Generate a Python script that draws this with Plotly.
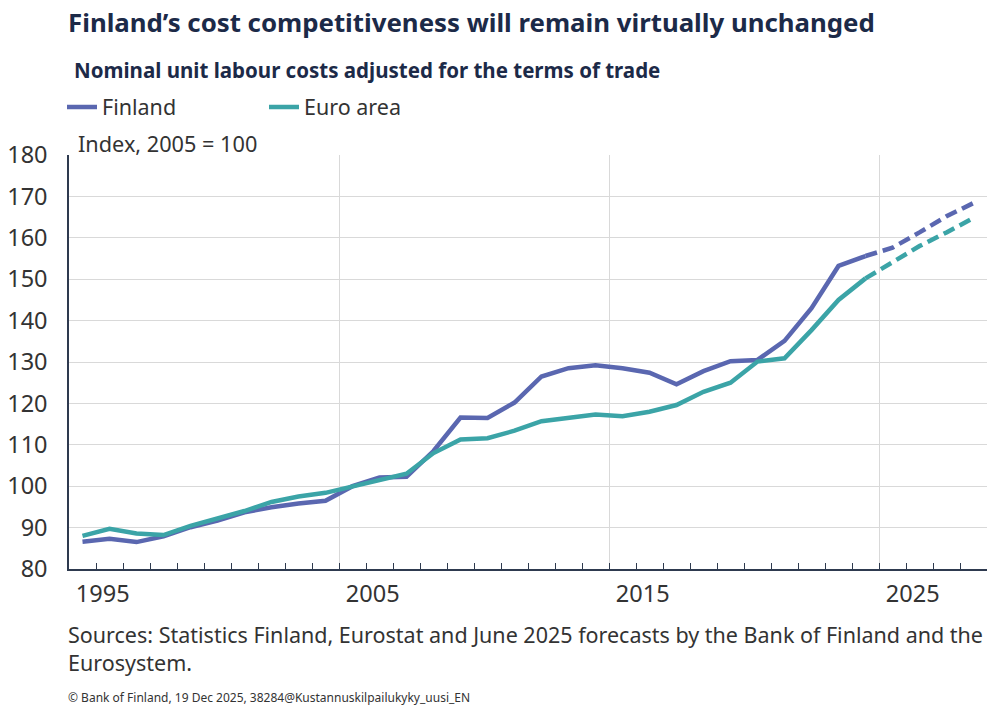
import plotly.graph_objects as go

years = list(range(1995, 2029))
finland = [86.6, 87.3, 86.5, 87.9, 90.1, 91.7, 93.7, 94.9, 95.8, 96.5,
           100.0, 102.1, 102.3, 108.5, 116.6, 116.5, 120.2, 126.5, 128.5, 129.2,
           128.5, 127.4, 124.6, 127.8, 130.2, 130.5, 135.1, 143.0, 153.2, 155.6,
           157.6, 161.3, 165.2, 168.4]
euro_area = [88.0, 89.7, 88.6, 88.2, 90.4, 92.3, 94.0, 96.2, 97.5, 98.4,
             100.0, 101.4, 103.0, 108.0, 111.3, 111.6, 113.4, 115.7, 116.6, 117.3,
             116.9, 118.0, 119.6, 122.8, 125.0, 130.1, 130.9, 137.7, 145.0, 150.2,
             154.2, 158.0, 161.3, 164.8]
last_actual_year = 2024
label_years = [1995, 2005, 2015, 2025]

FIN_COL = "#5a67b0"
EA_COL = "#3ba4a7"
TXT = "#333333"
FONT = "Noto Sans"

W, H = 988, 706
L, R, T, B = 69, 1, 155, 137
pw, ph = W - L - R, H - T - B

def px(xp):
    return (xp - L) / pw

def py(yp):
    return (H - B - yp) / ph

k = years.index(last_actual_year)

fig = go.Figure()
fig.add_trace(go.Scatter(x=years[:k + 1], y=finland[:k + 1], mode="lines", name="Finland",
                         line=dict(color=FIN_COL, width=4.5), legendgroup="fi"))
fig.add_trace(go.Scatter(x=years[k:], y=finland[k:], mode="lines", name="Finland",
                         line=dict(color=FIN_COL, width=4.5, dash="12px,6px"),
                         legendgroup="fi", showlegend=False))
fig.add_trace(go.Scatter(x=years[:k + 1], y=euro_area[:k + 1], mode="lines", name="Euro area",
                         line=dict(color=EA_COL, width=4.5), legendgroup="ea"))
fig.add_trace(go.Scatter(x=years[k:], y=euro_area[k:], mode="lines", name="Euro area",
                         line=dict(color=EA_COL, width=4.5, dash="12px,6px"),
                         legendgroup="ea", showlegend=False))
# invisible trace to activate the label axis
fig.add_trace(go.Scatter(x=[years[0]], y=[finland[0]], xaxis="x2", mode="markers",
                         marker=dict(opacity=0), showlegend=False, hoverinfo="skip"))

xr = [years[0] - 0.5, years[-1] + 0.5]
fig.update_layout(
    width=W, height=H,
    margin=dict(l=L, r=R, t=T, b=B),
    plot_bgcolor="white", paper_bgcolor="white",
    font=dict(family=FONT, color=TXT, size=21),
    showlegend=True,
    legend=dict(orientation="h", x=px(62), y=py(107), xanchor="left", yanchor="middle",
                entrywidth=157, entrywidthmode="pixels",
                font=dict(size=21.5, color=TXT), itemwidth=30, tracegroupgap=0),
    xaxis=dict(range=xr, tickmode="linear", tick0=years[0] - 0.5, dtick=10,
               showgrid=True, gridcolor="#d9d9d9", gridwidth=1,
               showticklabels=False, ticks="inside", ticklen=6, tickcolor="#2e3a4f",
               showline=True, linecolor="#2e3a4f", linewidth=1.5, zeroline=False,
               minor=dict(tickmode="linear", tick0=years[0] - 0.5, dtick=1,
                          ticks="inside", ticklen=6, tickcolor="#2e3a4f", showgrid=False)),
    xaxis2=dict(range=xr, overlaying="x", side="bottom", anchor="y",
                tickmode="array", tickvals=[y + 0.75 for y in label_years],
                ticktext=[str(y) for y in label_years],
                showgrid=False, showline=False, ticks="", zeroline=False,
                ticklabelstandoff=8, tickfont=dict(size=23.5, color=TXT)),
    yaxis=dict(range=[80, 180], tickmode="linear", tick0=80, dtick=10,
               showgrid=True, gridcolor="#d9d9d9", gridwidth=1,
               showline=True, linecolor="#2e3a4f", linewidth=1.5, zeroline=False,
               ticks="", ticklabelstandoff=15, tickfont=dict(size=23.5, color=TXT)),
)

ann = [
    dict(text="<b>Finland’s cost competitiveness will remain virtually unchanged</b>",
         xp=66, yp=22, size=25.8, color="#1c2a48"),
    dict(text="<b>Nominal unit labour costs adjusted for the terms of trade</b>",
         xp=72, yp=70, size=20.5, color="#1c2a48"),
    dict(text="Index, 2005 = 100", xp=76, yp=143, size=21.7, color=TXT),
    dict(text="Sources: Statistics Finland, Eurostat and June 2025 forecasts by the Bank of Finland and the",
         xp=66, yp=634, size=21.5, color=TXT),
    dict(text="Eurosystem.", xp=66, yp=662, size=21.5, color=TXT),
    dict(text="© Bank of Finland, 19 Dec 2025, 38284@Kustannuskilpailukyky_uusi_EN",
         xp=66, yp=697, size=12, color=TXT),
]
for a in ann:
    fig.add_annotation(text=a["text"], xref="paper", yref="paper", x=px(a["xp"]), y=py(a["yp"]),
                       xanchor="left", yanchor="middle", showarrow=False,
                       font=dict(size=a["size"], color=a["color"], family=FONT))

fig.write_html("out.html", config={"displayModeBar": False},
               post_script="document.body.style.margin='0px';document.body.style.overflow='hidden';")
